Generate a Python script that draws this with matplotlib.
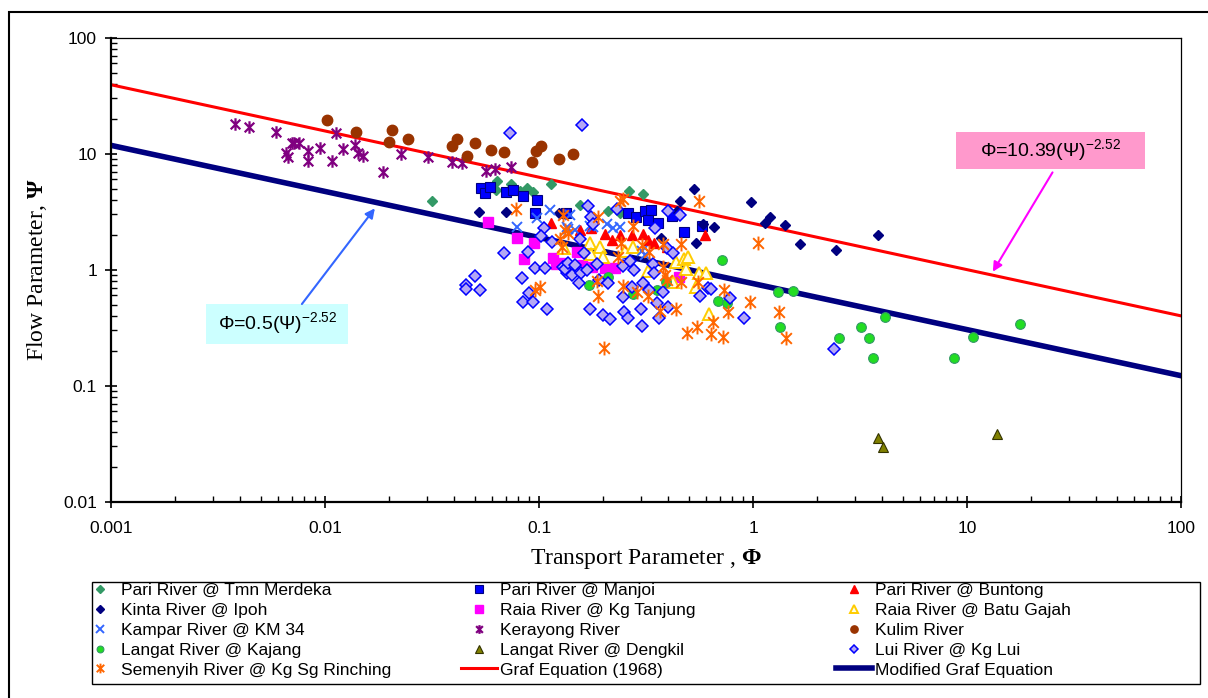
import matplotlib
matplotlib.use("Agg")
import matplotlib.pyplot as plt
from matplotlib.path import Path
from matplotlib.patches import Rectangle
from matplotlib.ticker import FixedLocator, LogLocator, FuncFormatter, NullFormatter

plt.rcParams['font.family'] = ['Liberation Sans', 'DejaVu Sans']
plt.rcParams['mathtext.fontset'] = 'custom'
plt.rcParams['mathtext.rm'] = 'Liberation Serif'
plt.rcParams['mathtext.bf'] = 'Liberation Serif:bold'

# ---- data (Transport parameter Phi, Flow parameter Psi) ----
pari_tmn_x = [0.0316, 0.0637, 0.0630, 0.0740, 0.0815, 0.0876, 0.0935, 0.114, 0.156, 0.210, 0.263, 0.306, 0.239]
pari_tmn_y = [3.90, 5.82, 4.86, 5.48, 4.77, 5.06, 4.68, 5.48, 3.61, 3.21, 4.77, 4.49, 3.08]

manjoi_x = [0.0536, 0.0559, 0.0590, 0.0701, 0.0756, 0.0843, 0.0978, 0.0958, 0.134, 0.261, 0.284, 0.313,
            0.333, 0.323, 0.360, 0.417, 0.476, 0.578]
manjoi_y = [5.06, 4.58, 5.16, 4.68, 4.86, 4.32, 3.98, 3.08, 3.08, 3.08, 2.85, 3.21,
            3.27, 2.68, 2.53, 2.90, 2.11, 2.38]

buntong_x = [0.114, 0.156, 0.175, 0.203, 0.239, 0.272, 0.306, 0.323, 0.345, 0.396, 0.597, 0.219]
buntong_y = [2.53, 2.20, 2.29, 2.03, 1.99, 1.99, 2.03, 1.80, 1.70, 1.57, 1.99, 1.80]

kinta_x = [0.0526, 0.0701, 0.124, 0.372, 0.442, 0.456, 0.531, 0.542, 0.584, 0.658, 0.978, 1.14,
           1.20, 1.41, 1.66, 2.44, 3.84]
kinta_y = [3.14, 3.14, 3.08, 1.88, 3.21, 3.90, 4.96, 1.70, 2.48, 2.33, 3.83, 2.53,
           2.85, 2.43, 1.66, 1.48, 1.99]

tanjung_x = [0.0578, 0.0787, 0.0948, 0.0851, 0.116, 0.120, 0.128, 0.151, 0.159, 0.177, 0.203, 0.227, 0.451]
tanjung_y = [2.58, 1.88, 1.70, 1.24, 1.26, 1.12, 1.14, 1.42, 1.10, 1.06, 1.03, 1.03, 0.865]

batu_x = [0.131, 0.173, 0.193, 0.175, 0.199, 0.252, 0.275, 0.323, 0.437, 0.476, 0.497, 0.487,
          0.559, 0.604, 0.542, 0.623, 0.422]
batu_y = [1.54, 1.70, 1.57, 1.37, 1.29, 1.45, 1.57, 0.975, 1.165, 1.24, 1.29, 1.01,
          0.937, 0.937, 0.709, 0.415, 0.783]

kampar_x = [0.0787, 0.0978, 0.113, 0.135, 0.140, 0.137, 0.147, 0.173, 0.179, 0.208, 0.222, 0.239, 0.303, 0.313]
kampar_y = [2.33, 2.79, 3.27, 2.33, 2.96, 2.24, 2.20, 2.38, 2.33, 2.48, 2.29, 2.33, 1.45, 1.34]

kerayong_x = [0.0038, 0.0044, 0.0059, 0.0066, 0.0067, 0.0070, 0.0072, 0.0076, 0.0083, 0.0083, 0.0095,
              0.0108, 0.0113, 0.0121, 0.0138, 0.0143, 0.0150, 0.0187, 0.0227, 0.0303, 0.0392, 0.0437,
              0.0565, 0.0623, 0.0740]
kerayong_y = [18.1, 17.0, 15.4, 10.1, 9.4, 12.4, 12.4, 12.4, 10.5, 8.6, 11.2,
              8.6, 15.1, 11.0, 11.9, 10.1, 9.55, 6.96, 9.94, 9.4, 8.48, 8.31,
              7.09, 7.38, 7.68]

kulim_x = [0.0102, 0.0140, 0.0206, 0.0199, 0.0244, 0.0413, 0.0392, 0.0460, 0.0502, 0.0597, 0.0686,
           0.0928, 0.102, 0.0969, 0.124, 0.144]
kulim_y = [19.5, 15.4, 16.0, 12.6, 13.4, 13.4, 11.6, 9.55, 12.4, 10.7, 10.3,
           8.48, 11.6, 10.5, 9.0, 9.94]

kajang_x = [0.171, 0.210, 0.275, 0.356, 0.392, 0.716, 0.686, 0.756, 1.31, 1.54, 1.34, 2.52, 3.20,
            3.49, 3.64, 4.14, 8.7, 10.67, 17.7]
kajang_y = [0.738, 0.865, 0.617, 0.668, 0.783, 1.21, 0.537, 0.516, 0.642, 0.655, 0.321, 0.258, 0.321,
            0.258, 0.173, 0.391, 0.175, 0.263, 0.340]

dengkil_x = [3.84, 4.05, 13.8]
dengkil_y = [0.0354, 0.0296, 0.0383]

lui_x = [0.0731, 0.159, 0.0456, 0.0456, 0.0531, 0.0502, 0.0686, 0.0833, 0.0885, 0.0894, 0.0843, 0.0935,
         0.0955, 0.1067, 0.109, 0.1055, 0.102, 0.115, 0.129, 0.135, 0.132, 0.137, 0.147, 0.143,
         0.157, 0.154, 0.162, 0.1555, 0.169, 0.175, 0.179, 0.167, 0.187, 0.191, 0.210, 0.231,
         0.247, 0.266, 0.278, 0.247, 0.272, 0.306, 0.327, 0.341, 0.345, 0.380, 0.356, 0.401,
         0.173, 0.199, 0.215, 0.250, 0.261, 0.300, 0.303, 0.364, 0.396, 0.422, 0.349, 0.401,
         0.456, 0.565, 0.617, 0.637, 0.779, 0.906, 2.39]
lui_y = [15.1, 17.7, 0.738, 0.682, 0.668, 0.882, 1.39, 0.848, 1.42, 0.630, 0.527, 0.527,
         1.03, 1.03, 0.458, 2.29, 1.95, 1.73, 1.05, 0.937, 1.01, 1.14, 1.10, 0.90,
         0.937, 0.768, 1.39, 1.84, 3.54, 2.85, 2.48, 0.994, 1.12, 0.815, 0.768, 3.33,
         1.075, 1.19, 0.994, 0.582, 0.709, 0.768, 0.668, 1.12, 0.937, 0.642, 0.516, 0.477,
         0.458, 0.407, 0.376, 0.432, 0.383, 0.458, 0.327, 0.383, 1.54, 1.39, 2.29, 3.21,
         2.96, 0.593, 0.695, 0.682, 0.570, 0.383, 0.207]

semenyih_x = [0.0779, 0.129, 0.132, 0.137, 0.125, 0.128, 0.0955, 0.101, 0.189, 0.239, 0.247, 0.275,
              0.241, 0.234, 0.303, 0.327, 0.380, 0.460, 0.559, 1.055, 0.380, 0.388, 0.396, 0.460,
              0.553, 0.187, 0.189, 0.247, 0.287, 0.323, 0.368, 0.437, 0.731, 0.968, 0.651, 0.492,
              0.547, 0.637, 0.723, 0.764, 0.201, 1.32, 1.43]
semenyih_y = [3.33, 2.96, 2.20, 2.07, 1.84, 1.57, 0.668, 0.709, 2.85, 3.90, 4.06, 2.38,
              1.70, 1.29, 1.63, 1.42, 1.66, 1.66, 3.90, 1.70, 1.05, 0.90, 0.815, 0.783,
              0.783, 0.80, 0.593, 0.724, 0.642, 0.593, 0.441, 0.458, 0.668, 0.527, 0.354, 0.285,
              0.321, 0.280, 0.263, 0.432, 0.211, 0.432, 0.258]

# equation lines, end points
line_x = [0.001, 100]
graf_y = [39.3, 0.40]
modified_y = [11.8, 0.122]

xticks = [0.001, 0.01, 0.1, 1, 10, 100]
yticks = [0.01, 0.1, 1, 10, 100]

# annotation boxes (x0, x1, y0, y1) and arrows, data coords
graf_box = (8.9, 67.9, 7.38, 15.3)
graf_text = (24.5, 10.6)
graf_tail = (25.1, 6.9)
graf_head = (13.2, 0.96)
mod_box = (0.00278, 0.01276, 0.2275, 0.506)
mod_text = (0.0060, 0.345)
mod_tail = (0.0078, 0.506)
mod_head = (0.0171, 3.38)

# ---- figure ----
W, H = 1208, 698
fig = plt.figure(figsize=(W / 100, H / 100), dpi=100)
ax = fig.add_axes([111 / W, 1 - 501.7 / H, 1070 / W, 464 / H])
ax.set_xscale('log')
ax.set_yscale('log')
ax.set_xlim(0.001, 100)
ax.set_ylim(0.01, 100)

ast = Path([(-1, -1), (1, 1), (-1, 1), (1, -1), (0, -1.3), (0, 1.3)],
           [Path.MOVETO, Path.LINETO, Path.MOVETO, Path.LINETO, Path.MOVETO, Path.LINETO])

h = {}
h['graf'], = ax.plot(line_x, graf_y, color='#FF0000', lw=2.2, zorder=2)
h['mod'], = ax.plot(line_x, modified_y, color='#000080', lw=4, zorder=2)

def pts(key, x, y, **kw):
    h[key], = ax.plot(x, y, ls='none', zorder=3, **kw)

pts('tmn', pari_tmn_x, pari_tmn_y, marker='D', ms=5.5, mfc='#339966', mec='#339966')
pts('manjoi', manjoi_x, manjoi_y, marker='s', ms=7.5, mfc='#0000FF', mec='#000080', mew=0.8)
pts('buntong', buntong_x, buntong_y, marker='^', ms=7.5, mfc='#FF0000', mec='#FF0000')
pts('kinta', kinta_x, kinta_y, marker='D', ms=5.5, mfc='#000080', mec='#000080')
pts('tanjung', tanjung_x, tanjung_y, marker='s', ms=7.5, mfc='#FF00FF', mec='#FF00FF')
pts('batu', batu_x, batu_y, marker='^', ms=8, mfc='#FFFFE6', mec='#FFCC00', mew=1.4)
pts('kampar', kampar_x, kampar_y, marker='x', ms=7.5, mec='#3366FF', mew=1.4)
pts('kerayong', kerayong_x, kerayong_y, marker=ast, ms=9, mec='#800080', mew=1.6)
pts('kulim', kulim_x, kulim_y, marker='o', ms=7.5, mfc='#993300', mec='#993300')
pts('kajang', kajang_x, kajang_y, marker='o', ms=7, mfc='#22DD22', mec='#339966', mew=0.8)
pts('dengkil', dengkil_x, dengkil_y, marker='^', ms=7.5, mfc='#808000', mec='#333300', mew=0.8)
pts('lui', lui_x, lui_y, marker='D', ms=6.2, mfc='#B4A7F5', mec='#0000FF', mew=1.1)
pts('semenyih', semenyih_x, semenyih_y, marker=ast, ms=10, mec='#FF6600', mew=1.4)

# axes styling
for s in ['left', 'bottom']:
    ax.spines[s].set_linewidth(1.6)
for s in ['top', 'right']:
    ax.spines[s].set_linewidth(0.9)
ax.xaxis.set_major_locator(FixedLocator(xticks))
ax.yaxis.set_major_locator(FixedLocator(yticks))
ax.xaxis.set_minor_locator(LogLocator(base=10, subs=range(2, 10), numticks=20))
ax.yaxis.set_minor_locator(LogLocator(base=10, subs=range(2, 10), numticks=20))
fmt = FuncFormatter(lambda v, p: '%g' % v)
ax.xaxis.set_major_formatter(fmt)
ax.yaxis.set_major_formatter(fmt)
ax.xaxis.set_minor_formatter(NullFormatter())
ax.yaxis.set_minor_formatter(NullFormatter())
ax.tick_params(which='major', direction='inout', length=8, width=1.2, labelsize=12.5, pad=6)
ax.tick_params(which='minor', direction='in', length=4, width=1)
ax.tick_params(axis='x', which='major', pad=10)

ax.set_xlabel(r'Transport Parameter , $\mathbf{Φ}$', family='Liberation Serif', fontsize=17, labelpad=8)
ax.set_ylabel(r'Flow Parameter, $\mathbf{Ψ}$', family='Liberation Serif', fontsize=17, labelpad=10)

# annotations: coloured boxes, equation text, arrows
for (x0, x1, y0, y1), fc in [(graf_box, '#FF99CC'), (mod_box, '#CCFFFF')]:
    ax.add_patch(Rectangle((x0, y0), x1 - x0, y1 - y0, fc=fc, ec='none', zorder=4))
ax.text(*graf_text, r'Φ=10.39(Ψ)$^{\mathregular{-2.52}}$', ha='center', va='center',
        fontsize=14, zorder=5)
ax.text(*mod_text, r'Φ=0.5(Ψ)$^{\mathregular{-2.52}}$', ha='center', va='center',
        fontsize=14, zorder=5)
ax.annotate('', xy=graf_head, xytext=graf_tail, zorder=5,
            arrowprops=dict(arrowstyle='-|>', color='#FF00FF', lw=1.5, mutation_scale=14,
                            shrinkA=0, shrinkB=0))
ax.annotate('', xy=mod_head, xytext=mod_tail, zorder=5,
            arrowprops=dict(arrowstyle='-|>', color='#3366FF', lw=1.5, mutation_scale=14,
                            shrinkA=0, shrinkB=0))

# outer chart frame and legend frame
fig.add_artist(Rectangle((9 / W, -0.05), 1.2, 1 - 12 / H + 0.05, transform=fig.transFigure,
                         fill=False, ec='black', lw=1.5))
fig.add_artist(Rectangle((92 / W, 1 - 684 / H), 1108 / W, 102 / H, transform=fig.transFigure,
                         fill=False, ec='black', lw=1.0))

order = ['tmn', 'manjoi', 'buntong', 'kinta', 'tanjung', 'batu', 'kampar', 'kerayong', 'kulim',
         'kajang', 'dengkil', 'lui', 'semenyih', 'graf', 'mod']
labels = {'tmn': 'Pari River @ Tmn Merdeka', 'manjoi': 'Pari River @ Manjoi',
          'buntong': 'Pari River @ Buntong', 'kinta': 'Kinta River @ Ipoh',
          'tanjung': 'Raia River @ Kg Tanjung', 'batu': 'Raia River @ Batu Gajah',
          'kampar': 'Kampar River @ KM 34', 'kerayong': 'Kerayong River', 'kulim': 'Kulim River',
          'kajang': 'Langat River @ Kajang', 'dengkil': 'Langat River @ Dengkil',
          'lui': 'Lui River @ Kg Lui', 'semenyih': 'Semenyih River @ Kg Sg Rinching',
          'graf': 'Graf Equation (1968)', 'mod': 'Modified Graf Equation'}
# the original legend is row-major, three columns: one legend per column
col_left = [82, 461, 836]
for c in range(3):
    keys = [order[r * 3 + c] for r in range(5)]
    fig.legend([h[k] for k in keys], [labels[k] for k in keys], ncol=1,
               loc='upper left', bbox_to_anchor=(col_left[c] / W, 1 - 583 / H),
               frameon=False, borderaxespad=0, borderpad=0,
               handlelength=2.1, handletextpad=0.15, labelspacing=0.27, markerscale=0.7,
               prop={'family': ['Liberation Sans Narrow', 'Liberation Sans'], 'size': 12.5})

fig.savefig('out.png', dpi=100)
